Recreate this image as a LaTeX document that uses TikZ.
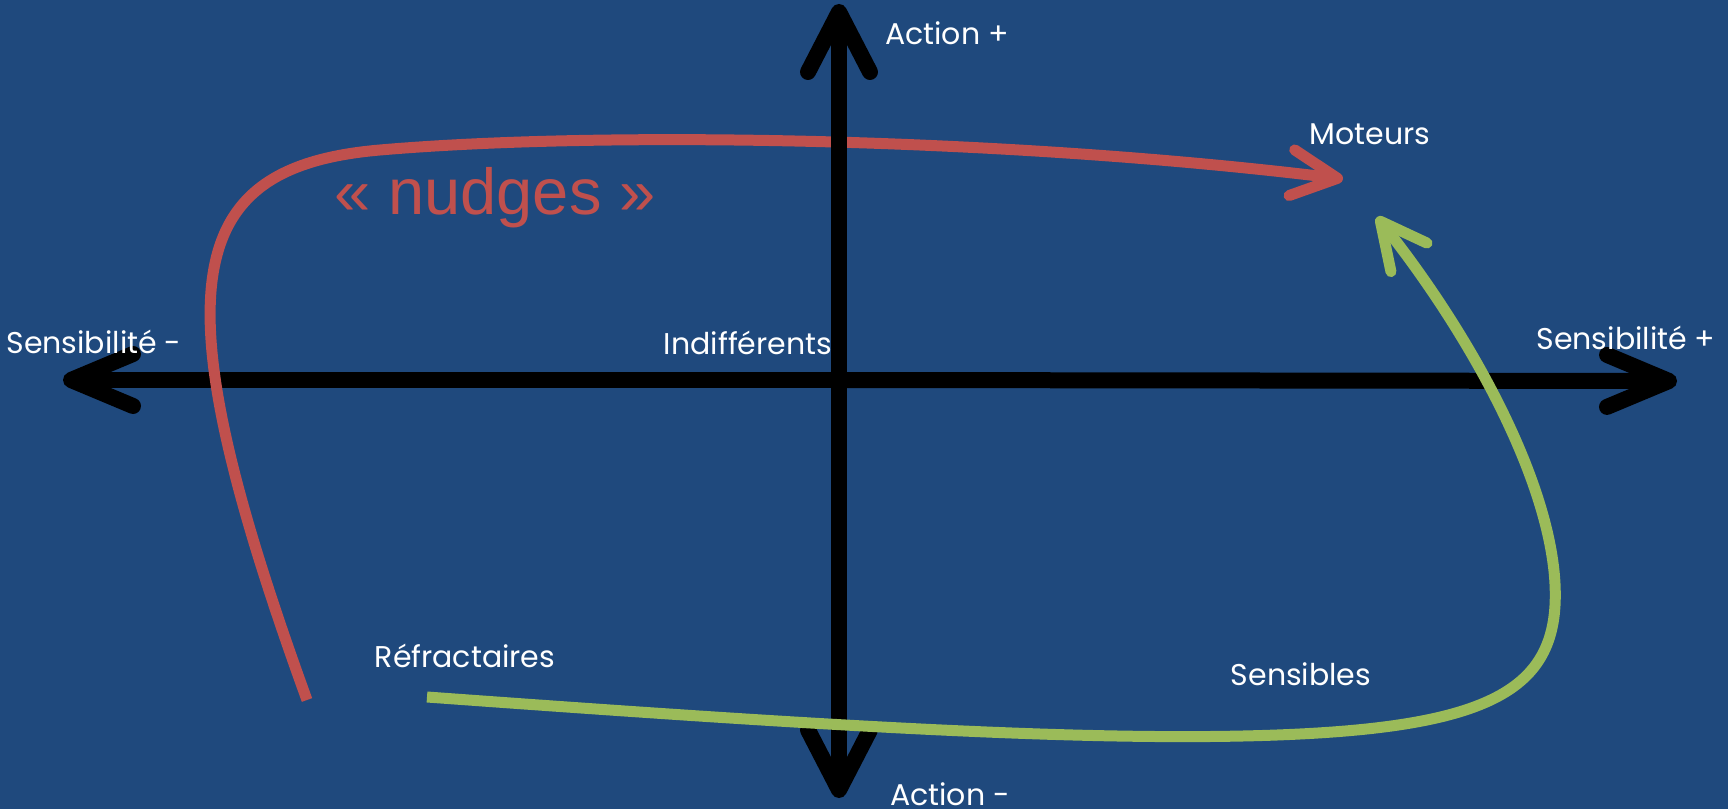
\documentclass[tikz,border=0pt]{standalone}
\usepackage{fontspec}
\setmainfont{Poppins}
\newfontfamily\arialfont{Liberation Sans}
\usetikzlibrary{arrows.meta}
\definecolor{fond}{RGB}{31,73,125}
\definecolor{rouge}{RGB}{192,80,77}
\definecolor{vert}{RGB}{155,187,89}
\begin{document}
\begin{tikzpicture}[x=1pt,y=1pt,
  haxe/.style={line width=16pt,-{Straight Barb[length=62pt,width=52pt,round]}},
  vaxe/.style={line width=16pt,-{Straight Barb[length=60pt,width=62pt,round]}},
  fleche/.style={line width=11pt,-{Straight Barb[length=46pt,width=46pt,round]}},
  etiq/.style={text=white,font=\fontsize{30}{36}\selectfont,inner sep=0pt,anchor=base}]
\fill[fond] (0,0) rectangle (1728,809);
\useasboundingbox (0,0) rectangle (1728,809);
\coordinate (origine) at (839,429);
\coordinate (gauche) at (63,429);
\coordinate (droite) at (1677,428);
\coordinate (haut) at (839,805);
\coordinate (bas) at (839,11);
\coordinate (rdebut) at (307,109);
\coordinate (rcoude) at (380,659);
\coordinate (rfin) at (1343,630);
\coordinate (vdebut) at (427,112);
\coordinate (vcoin) at (1300,75);
\coordinate (vcote) at (1555,225);
\coordinate (vfin) at (1377,592);
\draw[haxe] (origine) -- (gauche);
\draw[haxe] (origine) -- (droite);
\draw[rouge,fleche] (rdebut) .. controls (157,522) and (181,642) .. (rcoude)
  .. controls (600,678) and (1000,672) .. (rfin);
\draw[vaxe] (origine) -- (haut);
\draw[vaxe] (origine) -- (bas);
\draw[vert,fleche] (vdebut) .. controls (800,85) and (1100,65) .. (vcoin)
  .. controls (1500,85) and (1560,125) .. (vcote)
  .. controls (1550,325) and (1476,467) .. (vfin);
\node[etiq] (actplus) at (947,764) {Action +};
\node[etiq] (actmoins) at (950,4) {Action -};
\node[etiq] (sensmoins) at (94,455) {Sensibilité -};
\node[etiq] (sensplus) at (1626,459) {Sensibilité +};
\node[etiq] (moteurs) at (1370,664) {Moteurs};
\node[etiq] (indiff) at (748,454) {Indifférents};
\node[etiq] (refract) at (465,142) {Réfractaires};
\node[etiq] (sensibles) at (1301,124) {Sensibles};
\node[text=rouge,font=\arialfont\fontsize{65}{78}\selectfont,inner sep=0pt,anchor=base] (nudges) at (495,594) {« nudges »};
\end{tikzpicture}
\end{document}
